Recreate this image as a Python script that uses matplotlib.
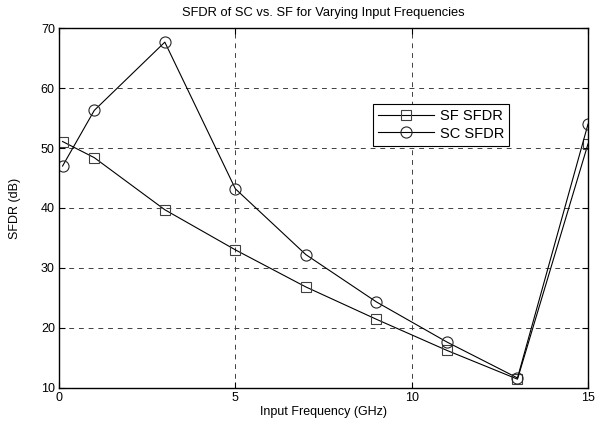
import numpy as np
import matplotlib.pyplot as plt

plt.rcParams['font.family'] = ['Liberation Sans', 'DejaVu Sans']

freq = [0.1, 1, 3, 5, 7, 9, 11, 13, 15]
sf_sfdr = [51.1, 48.4, 39.7, 33.0, 26.8, 21.4, 16.2, 11.4, 50.7]
sc_sfdr = [47.0, 56.3, 67.7, 43.2, 32.2, 24.3, 17.6, 11.6, 54.0]

fig = plt.figure(figsize=(5.98, 4.33), dpi=100)
ax = fig.add_axes([0.0987, 0.105, 0.8846, 0.8295])

ax.plot(freq, sf_sfdr, color='black', lw=0.8, marker='s', markersize=7,
        markerfacecolor='none', markeredgecolor='0.25', markeredgewidth=0.8, label='SF SFDR')
ax.plot(freq, sc_sfdr, color='black', lw=0.8, marker='o', markersize=8,
        markerfacecolor='none', markeredgecolor='0.15', markeredgewidth=0.8, label='SC SFDR')

ax.set_xlim(0, 15)
ax.set_ylim(10, 70)
ax.set_xticks([0, 5, 10, 15])
ax.set_yticks(np.arange(10, 71, 10))
ax.grid(True, color='0.25', linestyle=(0, (5, 5)), lw=0.7)
ax.tick_params(direction='in', top=True, right=True, labelsize=9, length=4, pad=3)
for s in ax.spines.values():
    s.set_linewidth(1.0)

ax.set_title('SFDR of SC vs. SF for Varying Input Frequencies', fontsize=9.3, pad=9)
ax.set_xlabel('Input Frequency (GHz)', fontsize=9, labelpad=2)
ax.set_ylabel('SFDR (dB)', fontsize=9, labelpad=14)

leg = ax.legend(loc='upper left', bbox_to_anchor=(0.594, 0.79), fontsize=10.5,
                fancybox=False, framealpha=1, edgecolor='black', borderpad=0.35,
                borderaxespad=0, handlelength=3.8, handletextpad=0.4, labelspacing=0.25)
leg.get_frame().set_linewidth(0.8)

fig.savefig('out.png', dpi=100)
